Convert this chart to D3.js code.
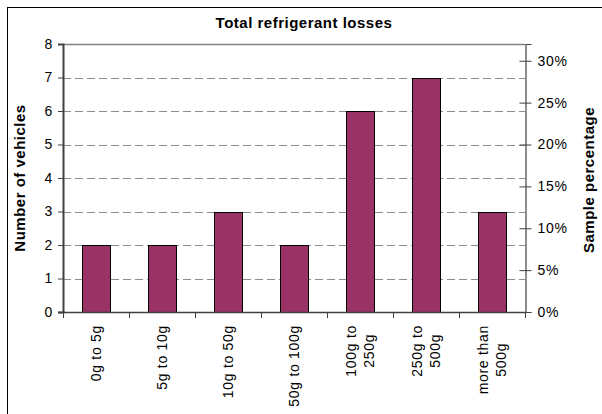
<!DOCTYPE html>
<html><head><meta charset="utf-8">
<script src="https://cdn.jsdelivr.net/npm/d3@7"></script>
<style>
html,body{margin:0;padding:0;background:#fff;}
text{font-family:"Liberation Sans",Arial,sans-serif;}
</style></head>
<body>
<svg id="c" width="602" height="414"></svg>
<script>
const categories = ["0g to 5g","5g to 10g","10g to 50g","50g to 100g","100g to\n250g","250g to\n500g","more than\n500g"];
const vehicles = [2,2,3,2,6,7,3];
const leftTicks = [0,1,2,3,4,5,6,7,8];
const rightTicks = [0,0.05,0.10,0.15,0.20,0.25,0.30];
const title = "Total refrigerant losses";
const leftTitle = "Number of vehicles";
const rightTitle = "Sample percentage";
const totalVehicles = 25;

const svg = d3.select("#c");
const L = 63, R = 525, T = 44, B = 312;
const FONT = "Liberation Sans, Arial, sans-serif";
const FS = 14, LS = "0.7px";

// outer frame
svg.append("rect").attr("x",7.5).attr("y",7.5).attr("width",700).attr("height",500)
  .attr("fill","none").attr("stroke","#000").attr("stroke-width",1);

const x = d3.scaleBand().domain(categories).range([L,R]).padding(0);
const y = d3.scaleLinear().domain([0,8]).range([B,T]);
const y2 = d3.scaleLinear().domain([0,8/totalVehicles]).range([B,T]);

// gridlines
svg.append("g").selectAll("line").data(leftTicks.filter(d=>d>0&&d<8)).join("line")
  .attr("x1",L).attr("x2",R).attr("y1",d=>Math.round(y(d))+0.5).attr("y2",d=>Math.round(y(d))+0.5)
  .attr("stroke","#8c8c8c").attr("stroke-width",1).attr("stroke-dasharray","8,4");

// plot border top
svg.append("line").attr("x1",L).attr("x2",R).attr("y1",T+0.5).attr("y2",T+0.5).attr("stroke","#808080").attr("stroke-width",1.5);

// bars
const bw = 28;
svg.append("g").selectAll("rect").data(vehicles).join("rect")
  .attr("x",(d,i)=>Math.round(x(categories[i])+x.bandwidth()/2-bw/2)+0.5)
  .attr("y",d=>Math.round(y(d))+0.5)
  .attr("width",bw).attr("height",d=>Math.round(y(0))-Math.round(y(d)))
  .attr("fill","#993366").attr("stroke","#000").attr("stroke-width",1);

// left axis
const gl = svg.append("g").attr("transform",`translate(${L},0)`)
  .call(d3.axisLeft(y).tickValues(leftTicks).tickSize(5).tickPadding(5).tickFormat(d3.format("d")));
gl.select(".domain").attr("stroke","#404040").attr("stroke-width",2);
gl.selectAll(".tick line").attr("stroke","#404040");
gl.selectAll(".tick text").attr("font-size",FS).attr("fill","#000").attr("font-family",FONT).style("letter-spacing",LS);

// right axis
const gr = svg.append("g").attr("transform",`translate(${R+0.5},0)`)
  .call(d3.axisRight(y2).tickValues(rightTicks).tickSize(6).tickPadding(6).tickFormat(d3.format(".0%")));
gr.select(".domain").attr("stroke","#404040").attr("stroke-width",1.2);
gr.selectAll(".tick line").attr("x1",-6).attr("stroke","#404040");
gr.selectAll(".tick text").attr("font-size",FS).attr("fill","#000").attr("font-family",FONT).style("letter-spacing",LS);

// bottom axis
svg.append("line").attr("x1",L-5).attr("x2",R).attr("y1",B+0.5).attr("y2",B+0.5).attr("stroke","#404040").attr("stroke-width",1.5);
const bounds = categories.map(c=>x(c)).concat([R]);
svg.append("g").selectAll("line").data(bounds).join("line")
  .attr("x1",d=>Math.round(d)+0.5).attr("x2",d=>Math.round(d)+0.5).attr("y1",B).attr("y2",B+6)
  .attr("stroke","#404040").attr("stroke-width",1);

// category labels
const lineH = 18;
categories.forEach(c=>{
  const lines = c.split("\n");
  const cx = x(c)+x.bandwidth()/2;
  const g = svg.append("g");
  const texts = lines.map((ln,k)=>{
    const off = (k-(lines.length-1)/2)*lineH;
    return g.append("text").text(ln).attr("font-size",FS).attr("fill","#000")
      .style("letter-spacing",LS)
      .attr("text-anchor","middle").attr("dy","0.35em")
      .attr("_off",off);
  });
  const maxLen = d3.max(texts,t=>t.node().getComputedTextLength());
  const top = 325;
  texts.forEach(t=>{
    const off = +t.attr("_off");
    t.attr("transform",`translate(${cx+off},${top+maxLen/2}) rotate(-90)`);
  });
});

// titles
const TFS = 15, TLS = "0.5px";
svg.append("text").attr("x",304).attr("y",28).attr("text-anchor","middle")
  .attr("font-size",TFS).attr("font-weight","bold").style("letter-spacing",TLS).text(title);
svg.append("text").attr("transform",`translate(25,178) rotate(-90)`).attr("text-anchor","middle")
  .attr("font-size",TFS).attr("font-weight","bold").style("letter-spacing",TLS).text(leftTitle);
svg.append("text").attr("transform",`translate(594,180) rotate(-90)`).attr("text-anchor","middle")
  .attr("font-size",TFS).attr("font-weight","bold").style("letter-spacing",TLS).text(rightTitle);
</script>
</body></html>
